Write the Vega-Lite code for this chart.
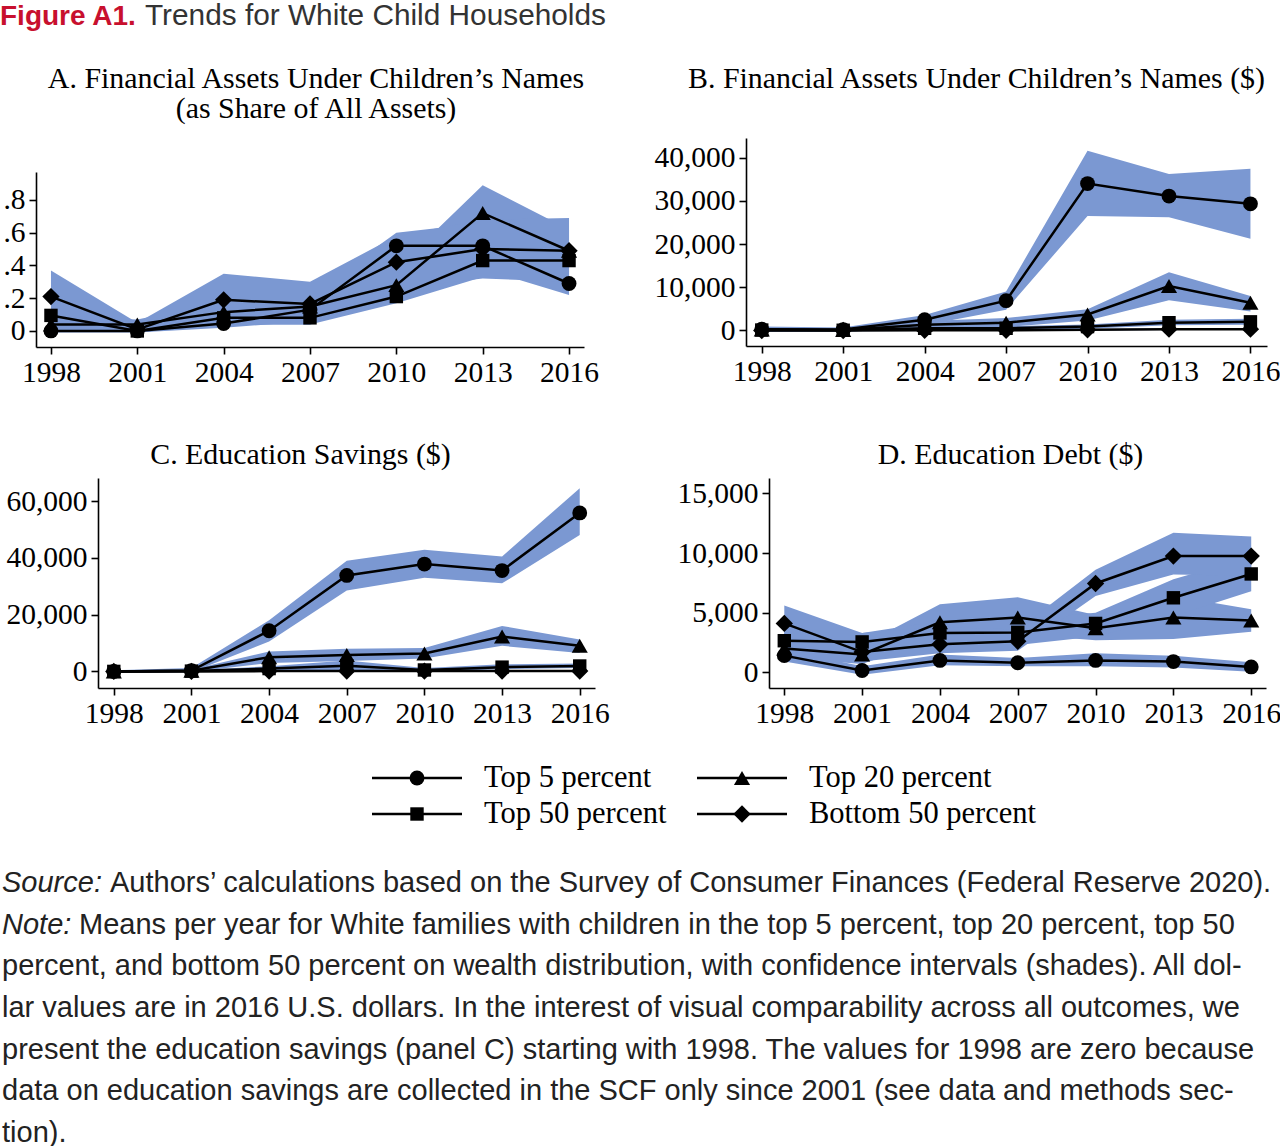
{
  "$schema": "https://vega.github.io/schema/vega-lite/v6.json",
  "padding": 0,
  "background": "white",
  "config": {
    "view": {"stroke": null},
    "font": "Liberation Serif",
    "title": {"font": "Liberation Serif", "fontSize": 29.9, "fontWeight": "normal", "color": "black", "anchor": "middle"},
    "axis": {"domainColor": "black", "domainWidth": 1.6, "tickColor": "black", "tickWidth": 1.6, "tickSize": 7, "labelFont": "Liberation Serif", "labelFontSize": 29.5, "labelColor": "black", "labelPadding": 4, "grid": false, "title": null, "labelFlush": false, "labelOverlap": false}
  },
  "datasets": {
    "d": [
      {"panel":"A","group":"Top 5 percent","year":1998,"mean":0.0,"lo":-0.01,"hi":0.02},
      {"panel":"A","group":"Top 5 percent","year":2001,"mean":0.0,"lo":-0.01,"hi":0.01},
      {"panel":"A","group":"Top 5 percent","year":2004,"mean":0.045,"lo":0.02,"hi":0.08},
      {"panel":"A","group":"Top 5 percent","year":2007,"mean":0.13,"lo":0.06,"hi":0.22},
      {"panel":"A","group":"Top 5 percent","year":2010,"mean":0.52,"lo":0.44,"hi":0.60},
      {"panel":"A","group":"Top 5 percent","year":2013,"mean":0.52,"lo":0.38,"hi":0.66},
      {"panel":"A","group":"Top 5 percent","year":2016,"mean":0.29,"lo":0.22,"hi":0.37},
      {"panel":"A","group":"Top 20 percent","year":1998,"mean":0.04,"lo":0.0,"hi":0.09},
      {"panel":"A","group":"Top 20 percent","year":2001,"mean":0.04,"lo":0.01,"hi":0.07},
      {"panel":"A","group":"Top 20 percent","year":2004,"mean":0.115,"lo":0.05,"hi":0.18},
      {"panel":"A","group":"Top 20 percent","year":2007,"mean":0.15,"lo":0.08,"hi":0.24},
      {"panel":"A","group":"Top 20 percent","year":2010,"mean":0.28,"lo":0.18,"hi":0.38},
      {"panel":"A","group":"Top 20 percent","year":2013,"mean":0.72,"lo":0.55,"hi":0.89},
      {"panel":"A","group":"Top 20 percent","year":2016,"mean":0.49,"lo":0.36,"hi":0.62},
      {"panel":"A","group":"Top 50 percent","year":1998,"mean":0.095,"lo":0.03,"hi":0.17},
      {"panel":"A","group":"Top 50 percent","year":2001,"mean":0.0,"lo":-0.01,"hi":0.02},
      {"panel":"A","group":"Top 50 percent","year":2004,"mean":0.08,"lo":0.04,"hi":0.13},
      {"panel":"A","group":"Top 50 percent","year":2007,"mean":0.08,"lo":0.04,"hi":0.13},
      {"panel":"A","group":"Top 50 percent","year":2010,"mean":0.21,"lo":0.17,"hi":0.26},
      {"panel":"A","group":"Top 50 percent","year":2013,"mean":0.43,"lo":0.33,"hi":0.53},
      {"panel":"A","group":"Top 50 percent","year":2016,"mean":0.43,"lo":0.33,"hi":0.53},
      {"panel":"A","group":"Bottom 50 percent","year":1998,"mean":0.21,"lo":0.05,"hi":0.37},
      {"panel":"A","group":"Bottom 50 percent","year":2001,"mean":0.01,"lo":-0.01,"hi":0.05},
      {"panel":"A","group":"Bottom 50 percent","year":2004,"mean":0.19,"lo":0.04,"hi":0.35},
      {"panel":"A","group":"Bottom 50 percent","year":2007,"mean":0.165,"lo":0.04,"hi":0.30},
      {"panel":"A","group":"Bottom 50 percent","year":2010,"mean":0.42,"lo":0.26,"hi":0.58},
      {"panel":"A","group":"Bottom 50 percent","year":2013,"mean":0.50,"lo":0.32,"hi":0.68},
      {"panel":"A","group":"Bottom 50 percent","year":2016,"mean":0.49,"lo":0.30,"hi":0.69},

      {"panel":"B","group":"Top 5 percent","year":1998,"mean":300,"lo":-300,"hi":900},
      {"panel":"B","group":"Top 5 percent","year":2001,"mean":200,"lo":-300,"hi":700},
      {"panel":"B","group":"Top 5 percent","year":2004,"mean":2500,"lo":1200,"hi":3600},
      {"panel":"B","group":"Top 5 percent","year":2007,"mean":6900,"lo":4800,"hi":9000},
      {"panel":"B","group":"Top 5 percent","year":2010,"mean":34000,"lo":26500,"hi":41600},
      {"panel":"B","group":"Top 5 percent","year":2013,"mean":31100,"lo":26200,"hi":36200},
      {"panel":"B","group":"Top 5 percent","year":2016,"mean":29300,"lo":21200,"hi":37400},
      {"panel":"B","group":"Top 20 percent","year":1998,"mean":200,"lo":-300,"hi":700},
      {"panel":"B","group":"Top 20 percent","year":2001,"mean":100,"lo":-300,"hi":500},
      {"panel":"B","group":"Top 20 percent","year":2004,"mean":1300,"lo":500,"hi":2200},
      {"panel":"B","group":"Top 20 percent","year":2007,"mean":1800,"lo":800,"hi":2900},
      {"panel":"B","group":"Top 20 percent","year":2010,"mean":3700,"lo":2300,"hi":4900},
      {"panel":"B","group":"Top 20 percent","year":2013,"mean":10300,"lo":7000,"hi":13500},
      {"panel":"B","group":"Top 20 percent","year":2016,"mean":6400,"lo":4400,"hi":8000},
      {"panel":"B","group":"Top 50 percent","year":1998,"mean":100,"lo":-200,"hi":400},
      {"panel":"B","group":"Top 50 percent","year":2001,"mean":50,"lo":-200,"hi":300},
      {"panel":"B","group":"Top 50 percent","year":2004,"mean":500,"lo":100,"hi":900},
      {"panel":"B","group":"Top 50 percent","year":2007,"mean":500,"lo":100,"hi":1000},
      {"panel":"B","group":"Top 50 percent","year":2010,"mean":900,"lo":400,"hi":1400},
      {"panel":"B","group":"Top 50 percent","year":2013,"mean":1800,"lo":1200,"hi":2500},
      {"panel":"B","group":"Top 50 percent","year":2016,"mean":2000,"lo":1300,"hi":2700},
      {"panel":"B","group":"Bottom 50 percent","year":1998,"mean":0,"lo":-200,"hi":200},
      {"panel":"B","group":"Bottom 50 percent","year":2001,"mean":0,"lo":-200,"hi":200},
      {"panel":"B","group":"Bottom 50 percent","year":2004,"mean":50,"lo":-100,"hi":200},
      {"panel":"B","group":"Bottom 50 percent","year":2007,"mean":50,"lo":-100,"hi":200},
      {"panel":"B","group":"Bottom 50 percent","year":2010,"mean":150,"lo":0,"hi":350},
      {"panel":"B","group":"Bottom 50 percent","year":2013,"mean":300,"lo":100,"hi":500},
      {"panel":"B","group":"Bottom 50 percent","year":2016,"mean":300,"lo":100,"hi":500},

      {"panel":"C","group":"Top 5 percent","year":1998,"mean":0,"lo":-400,"hi":400},
      {"panel":"C","group":"Top 5 percent","year":2001,"mean":300,"lo":-300,"hi":1200},
      {"panel":"C","group":"Top 5 percent","year":2004,"mean":14300,"lo":10500,"hi":18000},
      {"panel":"C","group":"Top 5 percent","year":2007,"mean":33800,"lo":28500,"hi":39000},
      {"panel":"C","group":"Top 5 percent","year":2010,"mean":37800,"lo":33000,"hi":42800},
      {"panel":"C","group":"Top 5 percent","year":2013,"mean":35500,"lo":31000,"hi":40500},
      {"panel":"C","group":"Top 5 percent","year":2016,"mean":55800,"lo":48000,"hi":64500},
      {"panel":"C","group":"Top 20 percent","year":1998,"mean":0,"lo":-300,"hi":300},
      {"panel":"C","group":"Top 20 percent","year":2001,"mean":200,"lo":-200,"hi":700},
      {"panel":"C","group":"Top 20 percent","year":2004,"mean":5000,"lo":3000,"hi":7000},
      {"panel":"C","group":"Top 20 percent","year":2007,"mean":5800,"lo":3700,"hi":8000},
      {"panel":"C","group":"Top 20 percent","year":2010,"mean":6300,"lo":4500,"hi":8200},
      {"panel":"C","group":"Top 20 percent","year":2013,"mean":12300,"lo":9000,"hi":16000},
      {"panel":"C","group":"Top 20 percent","year":2016,"mean":9000,"lo":6500,"hi":11200},
      {"panel":"C","group":"Top 50 percent","year":1998,"mean":0,"lo":-300,"hi":300},
      {"panel":"C","group":"Top 50 percent","year":2001,"mean":100,"lo":-200,"hi":400},
      {"panel":"C","group":"Top 50 percent","year":2004,"mean":1000,"lo":300,"hi":1800},
      {"panel":"C","group":"Top 50 percent","year":2007,"mean":2000,"lo":500,"hi":3800},
      {"panel":"C","group":"Top 50 percent","year":2010,"mean":500,"lo":0,"hi":1200},
      {"panel":"C","group":"Top 50 percent","year":2013,"mean":1500,"lo":800,"hi":2500},
      {"panel":"C","group":"Top 50 percent","year":2016,"mean":1900,"lo":1200,"hi":2800},
      {"panel":"C","group":"Bottom 50 percent","year":1998,"mean":0,"lo":-300,"hi":300},
      {"panel":"C","group":"Bottom 50 percent","year":2001,"mean":0,"lo":-200,"hi":200},
      {"panel":"C","group":"Bottom 50 percent","year":2004,"mean":100,"lo":-200,"hi":400},
      {"panel":"C","group":"Bottom 50 percent","year":2007,"mean":100,"lo":-200,"hi":400},
      {"panel":"C","group":"Bottom 50 percent","year":2010,"mean":100,"lo":-200,"hi":400},
      {"panel":"C","group":"Bottom 50 percent","year":2013,"mean":100,"lo":-200,"hi":400},
      {"panel":"C","group":"Bottom 50 percent","year":2016,"mean":100,"lo":-200,"hi":400},

      {"panel":"D","group":"Top 5 percent","year":1998,"mean":1400,"lo":900,"hi":1900},
      {"panel":"D","group":"Top 5 percent","year":2001,"mean":150,"lo":-200,"hi":500},
      {"panel":"D","group":"Top 5 percent","year":2004,"mean":1000,"lo":600,"hi":1500},
      {"panel":"D","group":"Top 5 percent","year":2007,"mean":800,"lo":500,"hi":1200},
      {"panel":"D","group":"Top 5 percent","year":2010,"mean":1000,"lo":500,"hi":1600},
      {"panel":"D","group":"Top 5 percent","year":2013,"mean":900,"lo":400,"hi":1400},
      {"panel":"D","group":"Top 5 percent","year":2016,"mean":450,"lo":50,"hi":850},
      {"panel":"D","group":"Top 20 percent","year":1998,"mean":2000,"lo":1200,"hi":2800},
      {"panel":"D","group":"Top 20 percent","year":2001,"mean":1500,"lo":700,"hi":2300},
      {"panel":"D","group":"Top 20 percent","year":2004,"mean":4200,"lo":3000,"hi":5700},
      {"panel":"D","group":"Top 20 percent","year":2007,"mean":4600,"lo":3200,"hi":6300},
      {"panel":"D","group":"Top 20 percent","year":2010,"mean":3700,"lo":2700,"hi":4800},
      {"panel":"D","group":"Top 20 percent","year":2013,"mean":4600,"lo":2800,"hi":6400},
      {"panel":"D","group":"Top 20 percent","year":2016,"mean":4350,"lo":3400,"hi":5300},
      {"panel":"D","group":"Top 50 percent","year":1998,"mean":2650,"lo":1800,"hi":3600},
      {"panel":"D","group":"Top 50 percent","year":2001,"mean":2550,"lo":1700,"hi":3300},
      {"panel":"D","group":"Top 50 percent","year":2004,"mean":3300,"lo":2300,"hi":4300},
      {"panel":"D","group":"Top 50 percent","year":2007,"mean":3350,"lo":2300,"hi":4400},
      {"panel":"D","group":"Top 50 percent","year":2010,"mean":4100,"lo":3000,"hi":5000},
      {"panel":"D","group":"Top 50 percent","year":2013,"mean":6250,"lo":4700,"hi":7800},
      {"panel":"D","group":"Top 50 percent","year":2016,"mean":8250,"lo":6800,"hi":9700},
      {"panel":"D","group":"Bottom 50 percent","year":1998,"mean":4100,"lo":2800,"hi":5600},
      {"panel":"D","group":"Bottom 50 percent","year":2001,"mean":1700,"lo":900,"hi":3300},
      {"panel":"D","group":"Bottom 50 percent","year":2004,"mean":2350,"lo":1600,"hi":3800},
      {"panel":"D","group":"Bottom 50 percent","year":2007,"mean":2600,"lo":1800,"hi":3600},
      {"panel":"D","group":"Bottom 50 percent","year":2010,"mean":7450,"lo":6400,"hi":8600},
      {"panel":"D","group":"Bottom 50 percent","year":2013,"mean":9750,"lo":8200,"hi":11700},
      {"panel":"D","group":"Bottom 50 percent","year":2016,"mean":9750,"lo":8100,"hi":11400}
    ],
    "legend": [
      {"label":"Top 5 percent","col":0,"row":0},
      {"label":"Top 20 percent","col":1,"row":0},
      {"label":"Top 50 percent","col":0,"row":1},
      {"label":"Bottom 50 percent","col":1,"row":1}
    ],
    "note": [
      {"line":1,"prefix":"Source:","text":"Authors’ calculations based on the Survey of Consumer Finances (Federal Reserve 2020)."},
      {"line":2,"prefix":"Note:","text":"Means per year for White families with children in the top 5 percent, top 20 percent, top 50"},
      {"line":3,"prefix":"","text":"percent, and bottom 50 percent on wealth distribution, with confidence intervals (shades). All dol-"},
      {"line":4,"prefix":"","text":"lar values are in 2016 U.S. dollars. In the interest of visual comparability across all outcomes, we"},
      {"line":5,"prefix":"","text":"present the education savings (panel C) starting with 1998. The values for 1998 are zero because"},
      {"line":6,"prefix":"","text":"data on education savings are collected in the SCF only since 2001 (see data and methods sec-"},
      {"line":7,"prefix":"","text":"tion)."}
    ]
  },
  "spacing": 10,
  "vconcat": [
    {
      "spacing": 8,
      "hconcat": [
        {"width": 136, "height": 1, "data": {"values": [{}]}, "mark": {"type": "text", "text": ""},
         "title": {"text": "Figure A1.", "font": "Liberation Sans", "fontWeight": "bold", "fontSize": 28, "color": "#c8102e", "anchor": "start", "offset": 0}},
        {"width": 470, "height": 1, "data": {"values": [{}]}, "mark": {"type": "text", "text": ""},
         "title": {"text": "Trends for White Child Households", "font": "Liberation Sans", "fontWeight": "normal", "fontSize": 29.8, "color": "#333333", "anchor": "start", "offset": 0}}
      ]
    },
    {
      "spacing": 41,
      "vconcat": [
        {
          "columns": 3,
          "align": "none",
          "spacing": {"row": 0, "column": 0},
          "concat": [
            {"width": 1, "height": 1, "data": {"values": [{}]}, "mark": {"type": "text", "text": ""}},
            {"width": 1, "height": 1, "data": {"values": [{}]}, "mark": {"type": "text", "text": ""}},
            {"width": 1, "height": 1, "data": {"values": [{}]}, "mark": {"type": "text", "text": ""}},
            {"width": 1, "height": 1, "data": {"values": [{}]}, "mark": {"type": "text", "text": ""}},
            {
              "width": 548, "height": 175,
              "data": {"name": "d"},
              "title": {"text": ["A. Financial Assets Under Children’s Names", "(as Share of All Assets)"], "offset": 48, "lineHeight": 30, "dx": 6},
              "transform": [{"filter": "datum.panel === 'A'"}],
              "encoding": {"x": {"field": "year", "type": "quantitative", "scale": {"domain": [1997.48, 2016.52], "nice": false, "zero": false}, "axis": {"values": [1998, 2001, 2004, 2007, 2010, 2013, 2016], "format": "d"}}},
              "layer": [
                {"mark": {"type": "area", "color": "#7b98d2", "opacity": 1},
                 "encoding": {"y": {"field": "lo", "type": "quantitative", "scale": {"domain": [-0.098, 0.971], "nice": false, "zero": false}, "axis": {"values": [0, 0.2, 0.4, 0.6, 0.8], "labelExpr": "datum.value == 0 ? '0' : '.' + format(datum.value * 10, 'd')", "minExtent": 35}}, "y2": {"field": "hi"}, "detail": {"field": "group"}}},
                {"mark": {"type": "line", "color": "black", "strokeWidth": 2.5},
                 "encoding": {"y": {"field": "mean", "type": "quantitative"}, "detail": {"field": "group"}}},
                {"mark": {"type": "point", "filled": true, "color": "black", "opacity": 1},
                 "encoding": {"y": {"field": "mean", "type": "quantitative"},
                   "shape": {"field": "group", "type": "nominal", "scale": {"domain": ["Top 5 percent", "Top 20 percent", "Top 50 percent", "Bottom 50 percent"], "range": ["circle", "triangle-up", "square", "diamond"]}, "legend": null},
                   "size": {"field": "group", "type": "nominal", "scale": {"type": "ordinal", "domain": ["Top 5 percent", "Top 20 percent", "Top 50 percent", "Bottom 50 percent"], "range": [220, 260, 180, 300]}, "legend": null}}}
              ]
            },
            {
              "width": 521, "height": 208,
              "data": {"name": "d"},
              "title": {"text": ["B. Financial Assets Under Children’s Names ($)", " "], "offset": 14, "lineHeight": 30, "dx": -30},
              "transform": [{"filter": "datum.panel === 'B'"}],
              "encoding": {"x": {"field": "year", "type": "quantitative", "scale": {"domain": [1997.42, 2016.61], "nice": false, "zero": false}, "axis": {"values": [1998, 2001, 2004, 2007, 2010, 2013, 2016], "format": "d"}}},
              "layer": [
                {"mark": {"type": "area", "color": "#7b98d2", "opacity": 1},
                 "encoding": {"y": {"field": "lo", "type": "quantitative", "scale": {"domain": [-3593, 44540], "nice": false, "zero": false}, "axis": {"values": [0, 10000, 20000, 30000, 40000], "format": ",d", "minExtent": 147}}, "y2": {"field": "hi"}, "detail": {"field": "group"}}},
                {"mark": {"type": "line", "color": "black", "strokeWidth": 2.5},
                 "encoding": {"y": {"field": "mean", "type": "quantitative"}, "detail": {"field": "group"}}},
                {"mark": {"type": "point", "filled": true, "color": "black", "opacity": 1},
                 "encoding": {"y": {"field": "mean", "type": "quantitative"},
                   "shape": {"field": "group", "type": "nominal", "scale": {"domain": ["Top 5 percent", "Top 20 percent", "Top 50 percent", "Bottom 50 percent"], "range": ["circle", "triangle-up", "square", "diamond"]}, "legend": null},
                   "size": {"field": "group", "type": "nominal", "scale": {"type": "ordinal", "domain": ["Top 5 percent", "Top 20 percent", "Top 50 percent", "Bottom 50 percent"], "range": [220, 260, 180, 300]}, "legend": null}}}
              ]
            }
          ]
        },
        {
          "spacing": 32,
          "vconcat": [
            {
              "columns": 3,
              "align": "none",
              "spacing": {"row": 0, "column": 0},
              "concat": [
                {"width": 1, "height": 1, "data": {"values": [{}]}, "mark": {"type": "text", "text": ""}},
                {"width": 1, "height": 1, "data": {"values": [{}]}, "mark": {"type": "text", "text": ""}},
                {"width": 1, "height": 1, "data": {"values": [{}]}, "mark": {"type": "text", "text": ""}},
                {"width": 1, "height": 1, "data": {"values": [{}]}, "mark": {"type": "text", "text": ""}},
                {
                  "width": 497, "height": 210,
                  "data": {"name": "d"},
                  "title": {"text": "C. Education Savings ($)", "offset": 8, "dx": -46},
                  "transform": [{"filter": "datum.panel === 'C'"}],
                  "encoding": {"x": {"field": "year", "type": "quantitative", "scale": {"domain": [1997.39, 2016.59], "nice": false, "zero": false}, "axis": {"values": [1998, 2001, 2004, 2007, 2010, 2013, 2016], "format": "d"}}},
                  "layer": [
                    {"mark": {"type": "area", "color": "#7b98d2", "opacity": 1},
                     "encoding": {"y": {"field": "lo", "type": "quantitative", "scale": {"domain": [-5845, 68100], "nice": false, "zero": false}, "axis": {"values": [0, 20000, 40000, 60000], "format": ",d", "minExtent": 97}}, "y2": {"field": "hi"}, "detail": {"field": "group"}}},
                    {"mark": {"type": "line", "color": "black", "strokeWidth": 2.5},
                     "encoding": {"y": {"field": "mean", "type": "quantitative"}, "detail": {"field": "group"}}},
                    {"mark": {"type": "point", "filled": true, "color": "black", "opacity": 1},
                     "encoding": {"y": {"field": "mean", "type": "quantitative"},
                       "shape": {"field": "group", "type": "nominal", "scale": {"domain": ["Top 5 percent", "Top 20 percent", "Top 50 percent", "Bottom 50 percent"], "range": ["circle", "triangle-up", "square", "diamond"]}, "legend": null},
                       "size": {"field": "group", "type": "nominal", "scale": {"type": "ordinal", "domain": ["Top 5 percent", "Top 20 percent", "Top 50 percent", "Bottom 50 percent"], "range": [220, 260, 180, 300]}, "legend": null}}}
                  ]
                },
                {
                  "width": 497, "height": 210,
                  "data": {"name": "d"},
                  "title": {"text": "D. Education Debt ($)", "offset": 8, "dx": -7},
                  "transform": [{"filter": "datum.panel === 'D'"}],
                  "encoding": {"x": {"field": "year", "type": "quantitative", "scale": {"domain": [1997.41, 2016.57], "nice": false, "zero": false}, "axis": {"values": [1998, 2001, 2004, 2007, 2010, 2013, 2016], "format": "d"}}},
                  "layer": [
                    {"mark": {"type": "area", "color": "#7b98d2", "opacity": 1},
                     "encoding": {"y": {"field": "lo", "type": "quantitative", "scale": {"domain": [-1315, 16297], "nice": false, "zero": false}, "axis": {"values": [0, 5000, 10000, 15000], "format": ",d", "minExtent": 159}}, "y2": {"field": "hi"}, "detail": {"field": "group"}}},
                    {"mark": {"type": "line", "color": "black", "strokeWidth": 2.5},
                     "encoding": {"y": {"field": "mean", "type": "quantitative"}, "detail": {"field": "group"}}},
                    {"mark": {"type": "point", "filled": true, "color": "black", "opacity": 1},
                     "encoding": {"y": {"field": "mean", "type": "quantitative"},
                       "shape": {"field": "group", "type": "nominal", "scale": {"domain": ["Top 5 percent", "Top 20 percent", "Top 50 percent", "Bottom 50 percent"], "range": ["circle", "triangle-up", "square", "diamond"]}, "legend": null},
                       "size": {"field": "group", "type": "nominal", "scale": {"type": "ordinal", "domain": ["Top 5 percent", "Top 20 percent", "Top 50 percent", "Bottom 50 percent"], "range": [220, 260, 180, 300]}, "legend": null}}}
                  ]
                }
              ]
            },
            {
              "spacing": 30,
              "vconcat": [
                {
                  "width": 1280, "height": 72,
                  "data": {"name": "legend"},
                  "encoding": {
                    "x": {"field": "col", "type": "quantitative", "scale": {"domain": [-1.2831, 2.6554], "nice": false, "zero": false}, "axis": null},
                    "y": {"field": "row", "type": "ordinal", "scale": {"type": "point", "padding": 0.5}, "axis": null}
                  },
                  "layer": [
                    {"mark": {"type": "tick", "orient": "horizontal", "color": "black", "size": 90, "thickness": 2.5, "opacity": 1}},
                    {"mark": {"type": "point", "filled": true, "color": "black", "opacity": 1},
                     "encoding": {
                       "shape": {"field": "label", "type": "nominal", "scale": {"domain": ["Top 5 percent", "Top 20 percent", "Top 50 percent", "Bottom 50 percent"], "range": ["circle", "triangle-up", "square", "diamond"]}, "legend": null},
                       "size": {"field": "label", "type": "nominal", "scale": {"type": "ordinal", "domain": ["Top 5 percent", "Top 20 percent", "Top 50 percent", "Bottom 50 percent"], "range": [220, 260, 180, 300]}, "legend": null}}},
                    {"mark": {"type": "text", "align": "left", "baseline": "middle", "dx": 67, "font": "Liberation Serif", "fontSize": 30.5, "color": "black"},
                     "encoding": {"text": {"field": "label"}}}
                  ]
                },
                {
                  "width": 1280, "height": 292,
                  "data": {"name": "note"},
                  "encoding": {
                    "x": {"datum": 0, "type": "quantitative", "scale": {"domain": [0, 1]}, "axis": null},
                    "y": {"field": "line", "type": "ordinal", "scale": {"type": "point", "padding": 0.5}, "axis": null}
                  },
                  "layer": [
                    {"transform": [{"filter": "datum.prefix != ''"}],
                     "mark": {"type": "text", "align": "left", "baseline": "middle", "dx": 2, "font": "Liberation Sans", "fontSize": 29, "fontStyle": "italic", "color": "#222222"},
                     "encoding": {"text": {"field": "prefix"}}},
                    {"transform": [{"filter": "datum.line == 1"}],
                     "mark": {"type": "text", "align": "left", "baseline": "middle", "dx": 110, "font": "Liberation Sans", "fontSize": 29, "color": "#222222"},
                     "encoding": {"text": {"field": "text"}}},
                    {"transform": [{"filter": "datum.line == 2"}],
                     "mark": {"type": "text", "align": "left", "baseline": "middle", "dx": 79, "font": "Liberation Sans", "fontSize": 29, "color": "#222222"},
                     "encoding": {"text": {"field": "text"}}},
                    {"transform": [{"filter": "datum.line > 2"}],
                     "mark": {"type": "text", "align": "left", "baseline": "middle", "dx": 2, "font": "Liberation Sans", "fontSize": 29, "color": "#222222"},
                     "encoding": {"text": {"field": "text"}}}
                  ]
                }
              ]
            }
          ]
        }
      ]
    }
  ]
}
